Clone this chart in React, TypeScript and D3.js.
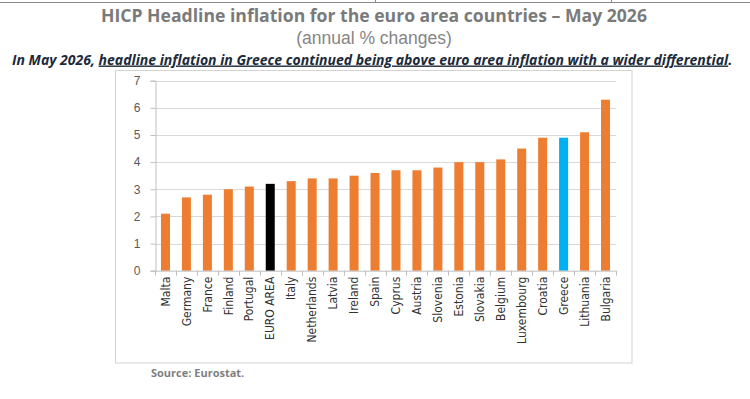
import React, { useEffect, useRef } from 'react'
import * as d3 from 'd3'

// HICP annual % change, May 2026
const countries = ['Malta', 'Germany', 'France', 'Finland', 'Portugal', 'EURO AREA', 'Italy', 'Netherlands', 'Latvia', 'Ireland', 'Spain', 'Cyprus', 'Austria', 'Slovenia', 'Estonia', 'Slovakia', 'Belgium', 'Luxembourg', 'Croatia', 'Greece', 'Lithuania', 'Bulgaria'];
const inflation = [2.1, 2.7, 2.8, 3.0, 3.1, 3.2, 3.3, 3.4, 3.4, 3.5, 3.6, 3.7, 3.7, 3.8, 4.0, 4.0, 4.1, 4.5, 4.9, 4.9, 5.1, 6.3];
const yTicks = [0, 1, 2, 3, 4, 5, 6, 7];
const highlight: Record<string, string> = { 'EURO AREA': '#000000', 'Greece': '#00b0f0' };

const NARROW = '"Liberation Sans Narrow", "DejaVu Sans Condensed", "Arial Narrow", sans-serif';
const SANS = '"Open Sans", "Liberation Sans", sans-serif';

export default function App() {
  const ref = useRef<SVGSVGElement | null>(null);

  useEffect(() => {
    if (!ref.current) return;
    const svg = d3.select(ref.current);
    svg.selectAll('*').remove();
    const width = 750;

    // thin rule along the top edge
    svg.append('line').attr('x1', 0).attr('x2', width).attr('y1', 2.5).attr('y2', 2.5).attr('stroke', '#8a8a8a').attr('stroke-width', 1);
    [375, 611].forEach(x => svg.append('line').attr('x1', x + 0.5).attr('x2', x + 0.5).attr('y1', 0).attr('y2', 3).attr('stroke', '#8a8a8a'));

    svg.append('text').text('HICP Headline inflation for the euro area countries – May 2026')
      .attr('x', 374).attr('y', 21.5).attr('text-anchor', 'middle')
      .attr('font-family', SANS).attr('font-weight', 'bold').attr('font-size', 17.6).attr('fill', '#7a7a7a');
    svg.append('text').text('(annual % changes)')
      .attr('x', 374).attr('y', 44).attr('text-anchor', 'middle')
      .attr('font-family', '"Liberation Sans", sans-serif').attr('font-size', 17.5).attr('fill', '#858585');

    const note = svg.append('text').attr('x', 12).attr('y', 64.5)
      .attr('font-family', SANS).attr('font-weight', 'bold').attr('font-style', 'italic')
      .attr('font-size', 14).attr('fill', '#1c2a39');
    note.append('tspan').text('In May 2026, ');
    note.append('tspan').attr('text-decoration', 'underline')
      .text('headline inflation in Greece continued being above euro area inflation with a wider differential');
    note.append('tspan').text('.');

    // chart frame
    svg.append('rect').attr('x', 115.5).attr('y', 70.5).attr('width', 516.5).attr('height', 292.5)
      .attr('fill', 'none').attr('stroke', '#d3d3d3');

    const left = 155, right = 616, top = 80.7, bottom = 270.7;
    const x = d3.scaleBand<string>().domain(countries).range([left, right]).paddingInner(0.57).paddingOuter(0.285);
    const y = d3.scaleLinear().domain([0, 7]).range([bottom, top]);

    const g = svg.append('g');
    // gridlines
    g.selectAll('line.grid').data(yTicks.slice(1)).enter().append('line')
      .attr('x1', left).attr('x2', right).attr('y1', d => Math.round(y(d)) + 0.5).attr('y2', d => Math.round(y(d)) + 0.5)
      .attr('stroke', '#d9d9d9').attr('stroke-width', 1);

    // y axis
    const yAxis = g.append('g').attr('transform', `translate(${left + 0.5},0)`)
      .call(d3.axisLeft(y).tickValues(yTicks).tickSize(5).tickPadding(10).tickFormat(d3.format('d')));
    yAxis.select('.domain').attr('stroke', '#bfbfbf');
    yAxis.selectAll('line').attr('stroke', '#bfbfbf');
    yAxis.selectAll('text').attr('font-family', '"Liberation Sans", sans-serif').attr('font-size', 12).attr('fill', '#595959');

    // bars
    g.selectAll('rect.bar').data(countries).enter().append('rect')
      .attr('x', d => x(d) as number).attr('width', x.bandwidth())
      .attr('y', (_, i) => y(inflation[i])).attr('height', (_, i) => bottom - y(inflation[i]))
      .attr('fill', d => highlight[d] || '#ed7d31');

    // x axis with ticks between categories
    const step = x.step();
    g.append('line').attr('x1', left).attr('x2', right).attr('y1', bottom + 0.5).attr('y2', bottom + 0.5).attr('stroke', '#bfbfbf');
    d3.range(countries.length + 1).forEach(i => {
      const xx = Math.round(left + i * step) + 0.5;
      g.append('line').attr('x1', xx).attr('x2', xx).attr('y1', bottom).attr('y2', bottom + 5).attr('stroke', '#bfbfbf');
    });
    g.selectAll('text.xl').data(countries).enter().append('text')
      .attr('transform', d => `translate(${(x(d) as number) + x.bandwidth() / 2},${bottom + 6}) rotate(-90)`)
      .attr('text-anchor', 'end').attr('dy', '0.35em')
      .attr('font-family', NARROW).attr('font-size', 12).attr('fill', '#333333')
      .text(d => d);

    svg.append('text').text('Source: Eurostat.').attr('x', 151).attr('y', 377)
      .attr('font-family', SANS).attr('font-weight', 'bold').attr('font-size', 11).attr('fill', '#7f7f7f');
  }, []);

  return <svg ref={ref} width={750} height={399} style={{ position: 'absolute', left: 0, top: 0, background: '#fff' }} />;
}
